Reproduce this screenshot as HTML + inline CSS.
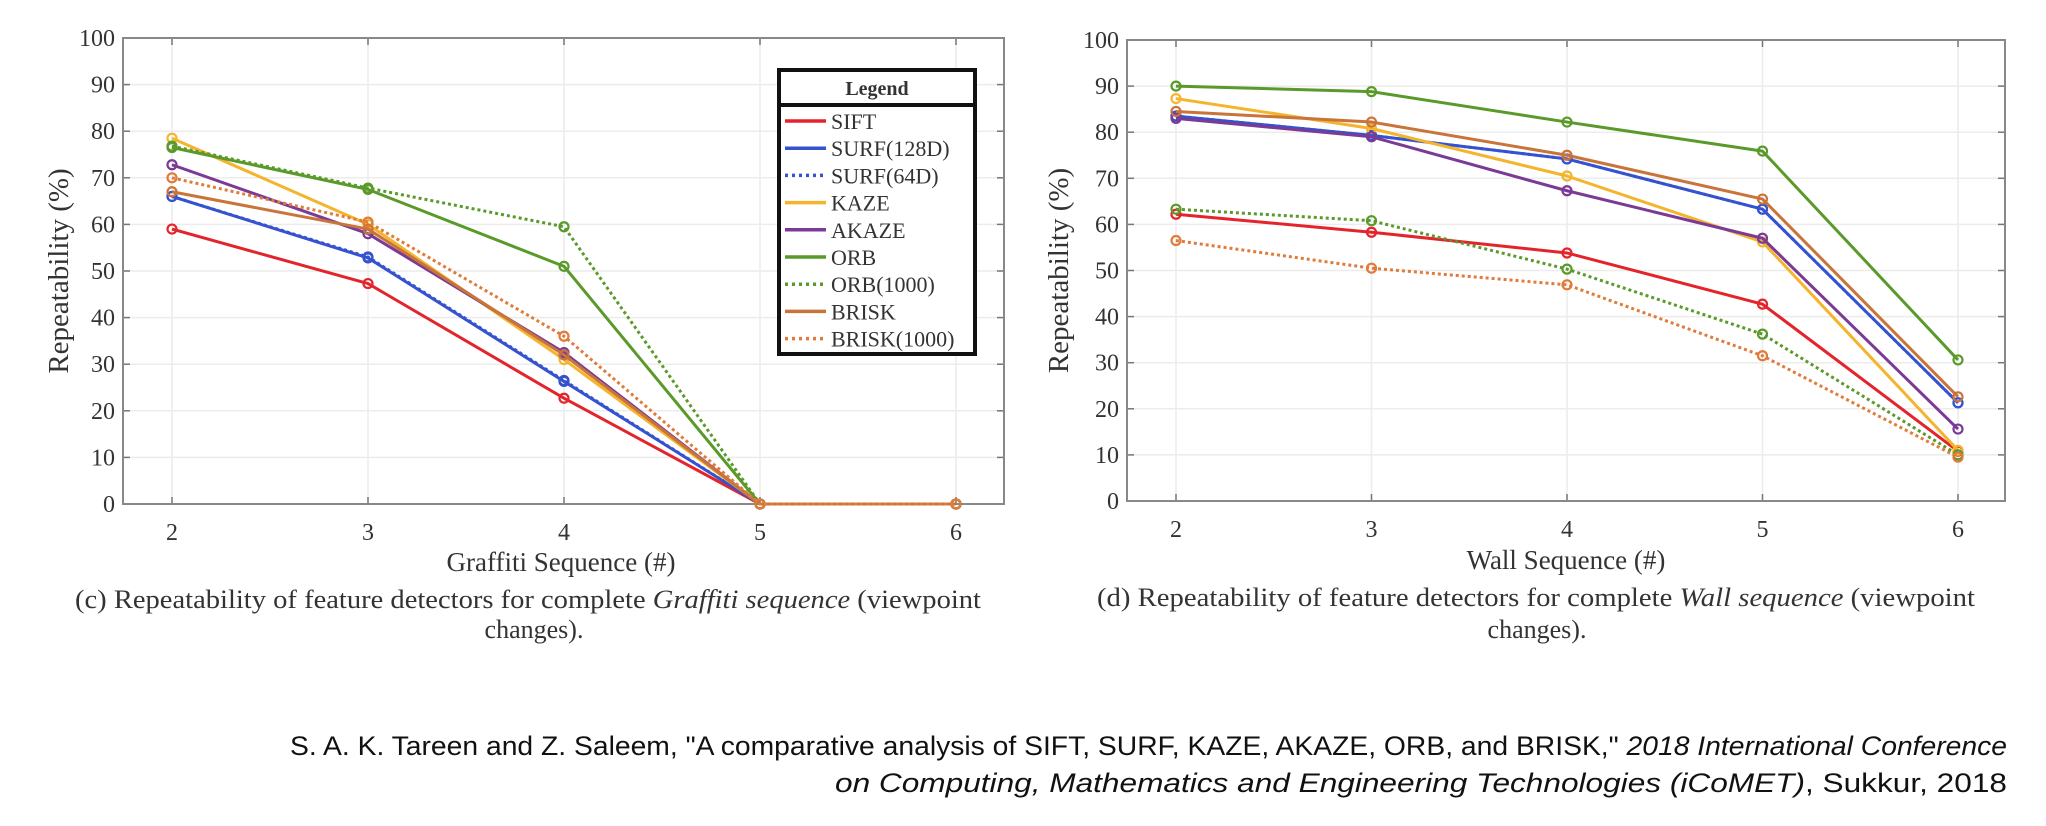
<!DOCTYPE html>
<html><head><meta charset="utf-8"><style>
html,body{margin:0;padding:0;background:#fff;}
svg{display:block;}
.t{font-family:"Liberation Serif",serif;fill:#333;}
.s{font-family:"Liberation Sans",sans-serif;fill:#111;}
</style></head><body>
<svg id="root" width="2046" height="826" viewBox="0 0 2046 826" xmlns="http://www.w3.org/2000/svg">
<g id="chartL"></g>
<g id="chartR"></g>
<g id="legend"></g>
<text class="t" x="561" y="571" font-size="27" text-anchor="middle">Graffiti Sequence (#)</text>
<text class="t" x="1566" y="569" font-size="27" text-anchor="middle">Wall Sequence (#)</text>
<text class="t" x="75" y="608" font-size="26" textLength="906" lengthAdjust="spacingAndGlyphs">(c) Repeatability of feature detectors for complete <tspan font-style="italic">Graffiti sequence</tspan> (viewpoint</text>
<text class="t" x="534" y="638" font-size="26" text-anchor="middle">changes).</text>
<text class="t" x="1097" y="606" font-size="26" textLength="878" lengthAdjust="spacingAndGlyphs">(d) Repeatability of feature detectors for complete <tspan font-style="italic">Wall sequence</tspan> (viewpoint</text>
<text class="t" x="1537" y="638" font-size="26" text-anchor="middle">changes).</text>
<text class="s" x="2007" y="755" font-size="27" text-anchor="end" textLength="1717" lengthAdjust="spacingAndGlyphs">S. A. K. Tareen and Z. Saleem, "A comparative analysis of SIFT, SURF, KAZE, AKAZE, ORB, and BRISK," <tspan font-style="italic">2018 International Conference</tspan></text>
<text class="s" x="2007" y="792" font-size="27" text-anchor="end" textLength="1172" lengthAdjust="spacingAndGlyphs"><tspan font-style="italic">on Computing, Mathematics and Engineering Technologies (iCoMET)</tspan>, Sukkur, 2018</text>
</svg>
<script>
const categories = [2, 3, 4, 5, 6];
const yTicks = [0,10,20,30,40,50,60,70,80,90,100];
const seriesNames = ["SIFT","SURF(128D)","SURF(64D)","KAZE","AKAZE","ORB","ORB(1000)","BRISK","BRISK(1000)"];
const seriesColors = ["#e3242b","#3552cf","#3552cf","#f4b42c","#7b3a96","#5a9a2a","#5a9a2a","#c8743a","#e07b39"];
const seriesDashed = [false,false,true,false,false,false,true,false,true];
const graffitiSIFT = [59, 47.3, 22.7, 0, 0];
const graffitiSURF128 = [66, 52.8, 26.3, 0, 0];
const graffitiSURF64 = [66, 53, 26.5, 0, 0];
const graffitiKAZE = [78.5, 60, 31, 0, 0];
const graffitiAKAZE = [72.8, 58, 32.5, 0, 0];
const graffitiORB = [76.5, 67.5, 51, 0, 0];
const graffitiORB1000 = [76.8, 67.8, 59.5, 0, 0];
const graffitiBRISK = [67, 59, 32, 0, 0];
const graffitiBRISK1000 = [70, 60.5, 36, 0, 0];
const wallSIFT = [62.2, 58.3, 53.8, 42.7, 10.8];
const wallSURF128 = [83.5, 79.3, 74.2, 63.3, 21.3];
const wallSURF64 = [83.5, 79.3, 74.2, 63.3, 21.3];
const wallKAZE = [87.3, 80.8, 70.5, 56.2, 11];
const wallAKAZE = [83, 79, 67.3, 57, 15.6];
const wallORB = [90, 88.8, 82.2, 75.9, 30.6];
const wallORB1000 = [63.3, 60.8, 50.3, 36.2, 10];
const wallBRISK = [84.5, 82.2, 75, 65.5, 22.6];
const wallBRISK1000 = [56.5, 50.5, 46.9, 31.5, 9.5];
const graffitiSeries = [graffitiSIFT,graffitiSURF128,graffitiSURF64,graffitiKAZE,graffitiAKAZE,graffitiORB,graffitiORB1000,graffitiBRISK,graffitiBRISK1000];
const wallSeries = [wallSIFT,wallSURF128,wallSURF64,wallKAZE,wallAKAZE,wallORB,wallORB1000,wallBRISK,wallBRISK1000];

const NS = "http://www.w3.org/2000/svg";
function mk(tag, attrs, parent){const e=document.createElementNS(NS,tag);for(const k in attrs)e.setAttribute(k,attrs[k]);parent.appendChild(e);return e;}

function drawChart(g, box, series, prefix){
  const xS = v => box.x2 + (v - 2) * box.step;
  const yS = v => box.bottom - v * (box.bottom - box.top) / 100;
  // grid
  yTicks.forEach(t=>{
    const l=mk("line",{x1:box.left,x2:box.right,y1:yS(t),y2:yS(t),stroke:"#ececec","stroke-width":1.5},g);
    
    
    const tk=mk("line",{x1:box.left,x2:box.left+7,y1:yS(t),y2:yS(t),stroke:"#777","stroke-width":1.5},g);
    
    
    const tk2=mk("line",{x1:box.right,x2:box.right-7,y1:yS(t),y2:yS(t),stroke:"#777","stroke-width":1.5},g);
    
    
    const tx=mk("text",{x:box.left-8,y:yS(t)+8,"font-size":24,"text-anchor":"end",class:"t"},g);
    tx.textContent=t;
    
    
  });
  categories.forEach(c=>{
    const l=mk("line",{x1:xS(c),x2:xS(c),y1:box.top,y2:box.bottom,stroke:"#ececec","stroke-width":1.5},g);
    
    
    const tk=mk("line",{x1:xS(c),x2:xS(c),y1:box.bottom,y2:box.bottom-7,stroke:"#777","stroke-width":1.5},g);
    
    
    const tk2=mk("line",{x1:xS(c),x2:xS(c),y1:box.top,y2:box.top+7,stroke:"#777","stroke-width":1.5},g);
    
    
    const tx=mk("text",{x:xS(c),y:box.bottom+36,"font-size":24,"text-anchor":"middle",class:"t"},g);
    tx.textContent=c;
    
    
  });
  const frame=mk("rect",{x:box.left,y:box.top,width:box.right-box.left,height:box.bottom-box.top,fill:"none",stroke:"#888","stroke-width":2},g);
  
  
  const yl=mk("text",{x:0,y:0,"font-size":29,"text-anchor":"middle",class:"t",transform:`translate(${box.ylx},${(box.top+box.bottom)/2}) rotate(-90)`},g);
  yl.textContent="Repeatability (%)";
  
  
  series.forEach((vals,i)=>{
    const pts=vals.map((v,j)=>xS(categories[j])+","+yS(v)).join(" ");
    const pl=mk("polyline",{points:pts,fill:"none",stroke:seriesColors[i],"stroke-width":3,"stroke-linejoin":"round"},g);
    if(seriesDashed[i]) pl.setAttribute("stroke-dasharray","3 3");
    
    
    vals.forEach((v,j)=>{
      const m=mk("circle",{cx:xS(categories[j]),cy:yS(v),r:4.5,fill:"none",stroke:seriesColors[i],"stroke-width":2.2},g);
      
      
    });
  });
}
drawChart(document.getElementById("chartL"),{left:123,right:1004,top:38,bottom:504,x2:172,step:196,ylx:68},graffitiSeries,"graffiti");
drawChart(document.getElementById("chartR"),{left:1127,right:2005,top:40,bottom:501,x2:1176,step:195.5,ylx:1068},wallSeries,"wall");

// legend
const lg=document.getElementById("legend");
const lb=mk("rect",{x:779,y:70,width:196,height:284,fill:"#fff",stroke:"#111","stroke-width":4},lg);


const ld=mk("line",{x1:779,x2:975,y1:105,y2:105,stroke:"#111","stroke-width":4},lg);


const lt=mk("text",{x:877,y:95,"font-size":20,"font-weight":"bold","text-anchor":"middle",class:"t",fill:"#111"},lg);
lt.textContent="Legend";


seriesNames.forEach((n,i)=>{
  const y=121+i*27.2;
  const l=mk("line",{x1:785,x2:826,y1:y,y2:y,stroke:seriesColors[i],"stroke-width":3.5},lg);
  if(seriesDashed[i]) l.setAttribute("stroke-dasharray","3 4");
  
  
  const t=mk("text",{x:831,y:y+8,"font-size":22,class:"t"},lg);
  t.textContent=n;
  
  
});
</script>
</body></html>
